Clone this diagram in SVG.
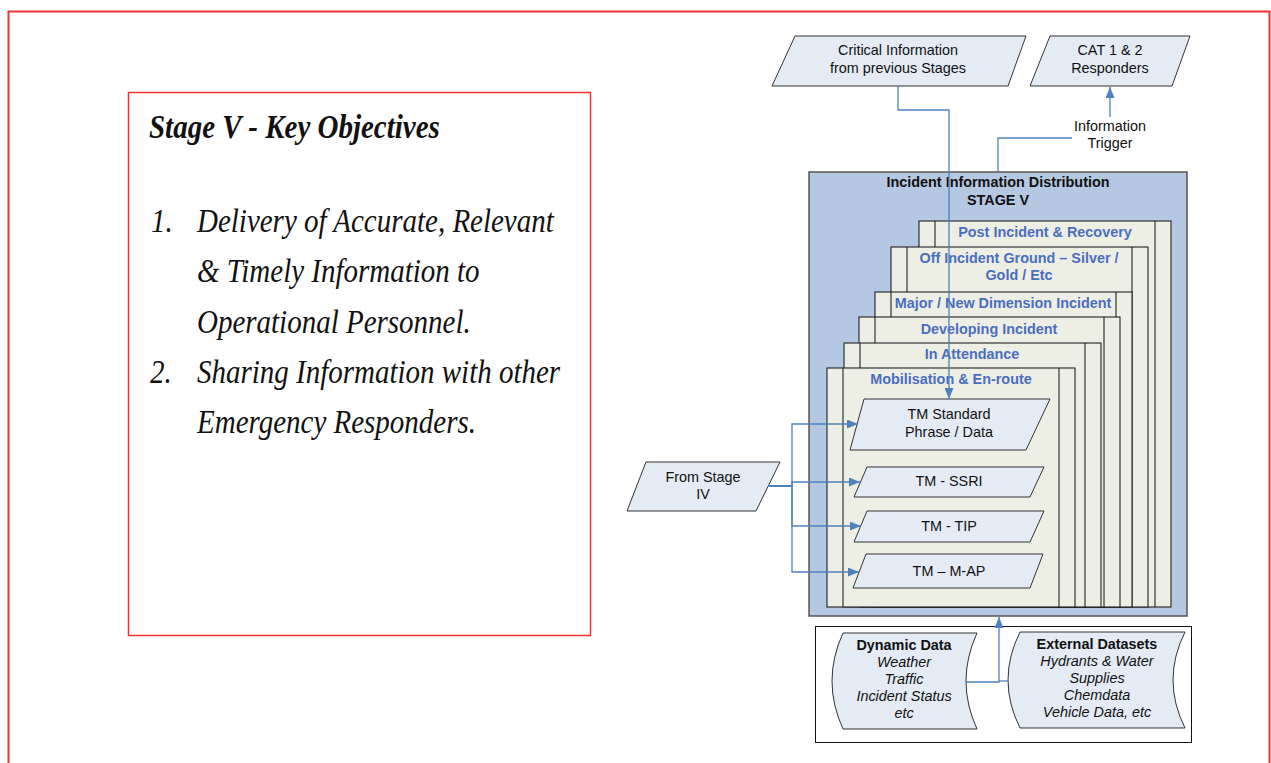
<svg xmlns="http://www.w3.org/2000/svg" width="1271" height="763" viewBox="0 0 1271 763">
<style>
.sans{font-family:"Liberation Sans",Arial,sans-serif;font-size:14.4px;fill:#111}
.b{font-weight:bold}
.it{font-style:italic}
.lbl{font-family:"Liberation Sans",Arial,sans-serif;font-size:14.4px;font-weight:bold;fill:#4a6ebf}
.ser{font-family:"Liberation Serif","Times New Roman",serif;font-style:italic;fill:#111}
.para{fill:#e4ebf5;stroke:#333;stroke-width:1}
.card{fill:#eeefe4;stroke:#222;stroke-width:1.1}
.div{stroke:#222;stroke-width:1.1}
.conn{fill:none;stroke:#4f81bd;stroke-width:1.3}
</style>
<defs>
<marker id="arr" markerUnits="userSpaceOnUse" markerWidth="11" markerHeight="9" refX="11" refY="4.5" orient="auto">
<path d="M0,0 L11,4.5 L0,9 Z" fill="#4f81bd"/>
</marker>
</defs>
<rect x="0" y="0" width="1271" height="763" fill="#fff"/>
<rect x="8.5" y="11.5" width="1261" height="800" fill="none" stroke="#ee3333" stroke-width="2"/>

<g id="objectives">
<rect x="128.5" y="92.5" width="462" height="543" fill="#fff" stroke="#e33" stroke-width="1.5"/>
<g transform="scale(1,1.14)" font-size="29">
<text class="ser" x="149" y="121.1" font-weight="bold">Stage V - Key Objectives</text>
<text class="ser" x="151" y="203.5">1.</text>
<text class="ser" x="197" y="203.5">Delivery of Accurate, Relevant</text>
<text class="ser" x="197" y="247.4">&amp; Timely Information to</text>
<text class="ser" x="197" y="292.1">Operational Personnel.</text>
<text class="ser" x="150" y="336">2.</text>
<text class="ser" x="197" y="336">Sharing Information with other</text>
<text class="ser" x="197" y="379.8">Emergency Responders.</text>
</g>
</g>

<g id="critical-info">
<polygon class="para" points="795,36 1026,36 1008,86 772,86"/>
<text class="sans" x="898" y="55" text-anchor="middle">Critical Information</text>
<text class="sans" x="898" y="73" text-anchor="middle">from previous Stages</text>
</g>

<g id="cat-responders">
<polygon class="para" points="1050,36 1190,36 1172,86 1030,86"/>
<text class="sans" x="1110" y="55" text-anchor="middle">CAT 1 &amp; 2</text>
<text class="sans" x="1110" y="73" text-anchor="middle">Responders</text>
</g>

<g id="stage-v">
<rect x="809" y="172" width="378" height="444" fill="#b5c8e1" stroke="#555" stroke-width="1.5"/>
<text class="sans b" x="998" y="187" text-anchor="middle">Incident Information Distribution</text>
<text class="sans b" x="998" y="205" text-anchor="middle">STAGE V</text>
</g>

<g id="post-incident">
<rect class="card" x="919" y="221" width="252" height="386"/>
<line class="div" x1="935" y1="221" x2="935" y2="607"/>
<line class="div" x1="1155" y1="221" x2="1155" y2="607"/>
<text class="lbl" x="1045" y="237" text-anchor="middle">Post Incident &amp; Recovery</text>
</g>
<g id="off-incident">
<rect class="card" x="891" y="247" width="257" height="360"/>
<line class="div" x1="907" y1="247" x2="907" y2="607"/>
<line class="div" x1="1132" y1="247" x2="1132" y2="607"/>
<text class="lbl" x="1019" y="263" text-anchor="middle">Off Incident Ground – Silver /</text>
<text class="lbl" x="1019" y="280" text-anchor="middle">Gold / Etc</text>
</g>
<g id="major-incident">
<rect class="card" x="875" y="292" width="257" height="315"/>
<line class="div" x1="891" y1="292" x2="891" y2="607"/>
<line class="div" x1="1116" y1="292" x2="1116" y2="607"/>
<text class="lbl" x="1003" y="308" text-anchor="middle">Major / New Dimension Incident</text>
</g>
<g id="developing">
<rect class="card" x="859" y="317" width="261" height="290"/>
<line class="div" x1="875" y1="317" x2="875" y2="607"/>
<line class="div" x1="1104" y1="317" x2="1104" y2="607"/>
<text class="lbl" x="989" y="334" text-anchor="middle">Developing Incident</text>
</g>
<g id="attendance">
<rect class="card" x="844" y="343" width="257" height="264"/>
<line class="div" x1="860" y1="343" x2="860" y2="607"/>
<line class="div" x1="1085" y1="343" x2="1085" y2="607"/>
<text class="lbl" x="972" y="359" text-anchor="middle">In Attendance</text>
</g>
<g id="mobilisation">
<rect class="card" x="827" y="368" width="248" height="239"/>
<line class="div" x1="843" y1="368" x2="843" y2="607"/>
<line class="div" x1="1059" y1="368" x2="1059" y2="607"/>
<text class="lbl" x="951" y="384" text-anchor="middle">Mobilisation &amp; En-route</text>
</g>

<g id="tm-standard">
<polygon class="para" points="864,399 1050,399 1026,450 850,450"/>
<text class="sans" x="949" y="419" text-anchor="middle">TM Standard</text>
<text class="sans" x="949" y="437" text-anchor="middle">Phrase / Data</text>
</g>
<g id="tm-ssri">
<polygon class="para" points="867,467 1044,467 1030,497 854,497"/>
<text class="sans" x="949" y="486" text-anchor="middle">TM - SSRI</text>
</g>
<g id="tm-tip">
<polygon class="para" points="867,511 1044,511 1030,542 854,542"/>
<text class="sans" x="949" y="531" text-anchor="middle">TM - TIP</text>
</g>
<g id="tm-map">
<polygon class="para" points="866,554 1043,554 1030,588 853,588"/>
<text class="sans" x="949" y="576" text-anchor="middle">TM – M-AP</text>
</g>

<g id="from-stage-iv">
<polygon class="para" points="646,462 780,462 756,511 627,511"/>
<text class="sans" x="703" y="482" text-anchor="middle">From Stage</text>
<text class="sans" x="703" y="499" text-anchor="middle">IV</text>
</g>

<g id="data-sources">
<rect x="815.5" y="626.5" width="376" height="116" fill="#fff" stroke="#111" stroke-width="1"/>
</g>
<g id="dynamic-data">
<path class="para" d="M843,633 L977,633 Q955,681 977,729 L843,729 Q821,681 843,633 Z"/>
<text class="sans b" x="904" y="650" text-anchor="middle">Dynamic Data</text>
<text class="sans it" x="904" y="667" text-anchor="middle">Weather</text>
<text class="sans it" x="904" y="684" text-anchor="middle">Traffic</text>
<text class="sans it" x="904" y="701" text-anchor="middle">Incident Status</text>
<text class="sans it" x="904" y="718" text-anchor="middle">etc</text>
</g>
<g id="external-datasets">
<path class="para" d="M1020,632 L1185,632 Q1161,680 1185,728 L1020,728 Q996,680 1020,632 Z"/>
<text class="sans b" x="1097" y="649" text-anchor="middle">External Datasets</text>
<text class="sans it" x="1097" y="666" text-anchor="middle">Hydrants &amp; Water</text>
<text class="sans it" x="1097" y="683" text-anchor="middle">Supplies</text>
<text class="sans it" x="1097" y="700" text-anchor="middle">Chemdata</text>
<text class="sans it" x="1097" y="717" text-anchor="middle">Vehicle Data, etc</text>
</g>

<g id="connectors">
<path class="conn" d="M898,86 V110 H949 V399" marker-end="url(#arr)"/>
<path class="conn" d="M998,172 V138 H1110 V87" marker-end="url(#arr)"/>
<rect x="1072" y="117" width="77" height="35" fill="#fff"/>
<text class="sans" x="1110" y="131" text-anchor="middle">Information</text>
<text class="sans" x="1110" y="148" text-anchor="middle">Trigger</text>
<path class="conn" d="M768,486 H792 V424 H858" marker-end="url(#arr)"/>
<path class="conn" d="M768,486 H792 V482 H860" marker-end="url(#arr)"/>
<path class="conn" d="M768,486 H792 V526 H861" marker-end="url(#arr)"/>
<path class="conn" d="M768,486 H792 V572 H859" marker-end="url(#arr)"/>
<path class="conn" d="M966,682 H999 V617" marker-end="url(#arr)"/>
<path class="conn" d="M1008,681 H999"/>
</g>
</svg>
